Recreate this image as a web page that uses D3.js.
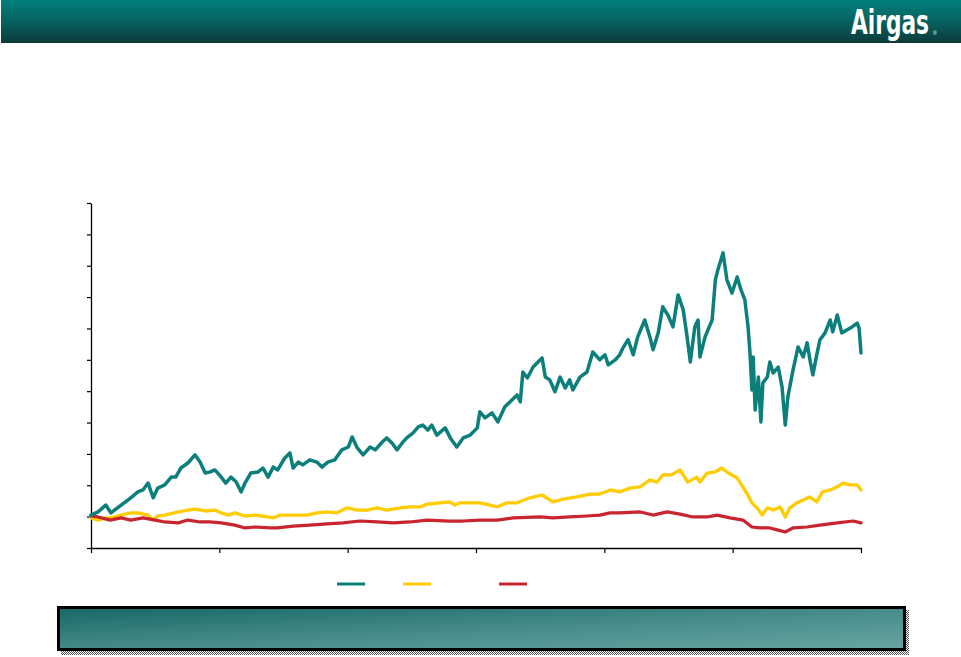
<!DOCTYPE html>
<html>
<head>
<meta charset="utf-8">
<script src="https://cdn.jsdelivr.net/npm/d3@7/dist/d3.min.js"></script>
<style>
  html, body { margin: 0; padding: 0; background: #fff; }
  svg { display: block; }
</style>
</head>
<body>
<svg id="chart" width="961" height="657"></svg>
<script>
// ---- Data (indexed value, months from start) ----
const tealMonths = [0,1.1,2.3,3.1,4.7,6.2,7.3,8.1,8.9,9.7,10.4,11.5,12.5,13.2,14.0,15.1,16.2,17.0,17.8,18.5,19.3,20.3,21.0,21.8,22.6,23.4,24.0,24.9,26.0,26.8,27.6,28.4,29.1,30.2,31.0,31.5,32.3,33.0,34.1,35.2,36.0,36.9,38.0,39.1,40.1,40.7,41.5,42.4,43.5,44.3,45.4,46.1,46.9,47.7,48.5,49.2,50.2,51.0,51.7,52.5,53.1,53.9,55.2,56.0,57.0,58.0,59.1,60.2,60.6,61.4,62.5,63.4,64.5,65.6,66.4,66.9,67.3,68.0,68.9,70.3,70.8,71.5,72.3,73.1,73.9,74.6,75.1,76.2,77.3,78.2,79.3,80.1,80.6,81.7,82.4,82.9,83.7,84.5,85.2,86.3,87.1,87.6,88.4,89.1,89.9,90.7,91.5,92.3,92.9,93.4,94.1,94.6,94.9,95.7,96.8,97.3,97.7,98.5,99.1,99.9,100.7,101.3,101.9,102.4,102.7,103.0,103.2,103.5,104.0,104.4,104.7,105.4,105.8,106.3,107.1,107.7,108.2,108.6,109.4,110.2,111.0,111.6,112.1,112.5,113.1,113.6,114.4,115.2,115.6,116.3,117.0,117.8,118.6,119.4,119.7,120];
const tealValues = [105,115,137,112,137,160,179,185,207,160,191,201,226,226,255,271,297,274,239,242,249,226,207,226,211,179,207,239,242,255,226,258,249,287,303,255,274,265,281,274,258,274,281,313,322,354,319,297,322,313,338,351,335,313,335,351,367,386,392,376,392,360,383,351,322,351,360,383,434,415,431,402,450,472,488,466,561,542,577,606,545,536,498,545,510,536,504,545,561,625,600,616,584,600,616,638,664,616,673,727,673,632,686,769,743,705,807,759,673,593,705,727,609,673,727,855,887,941,855,813,864,823,791,705,622,504,609,440,545,402,526,545,593,558,577,513,392,481,567,641,609,654,593,552,616,664,686,727,689,743,686,695,705,717,701,622];

const yellowMonths = [0,1.1,2.3,3.1,4.7,6.2,7.3,8.9,9.7,10.4,11.5,13.6,15.1,16.2,17.8,19.3,20.3,21.4,22.4,24.0,25.6,27.6,28.4,29.5,31.5,33.7,35.2,36.8,38.3,39.9,41.5,43.0,44.6,46.1,48.2,49.7,51.3,52.4,54.4,55.9,56.7,57.5,59.1,60.6,62.2,63.3,64.8,66.4,68.4,70.3,72.0,73.6,75.7,77.8,79.3,80.9,82.4,84.0,85.6,87.1,88.2,89.1,90.5,91.8,93.0,94.4,94.9,96.0,97.2,98.3,99.3,100.7,101.1,102.2,103.0,103.8,104.6,105.4,106.3,107.4,108.2,108.9,110.0,111.0,112.0,113.1,114.0,115.2,116.3,117.2,118.3,119.4,120];
const yellowValues = [96,89,96,96,105,112,112,105,89,102,105,115,121,124,118,121,112,105,112,102,105,99,96,105,105,105,112,115,112,128,121,121,128,121,128,131,131,140,144,147,137,144,144,144,137,131,144,144,160,169,147,156,163,172,172,185,179,191,195,217,210,233,233,249,210,226,210,239,242,255,239,223,210,175,144,128,105,128,121,131,99,128,144,153,163,147,179,185,195,207,201,201,185];

const redMonths = [0,1.1,3.0,4.7,6.2,8.1,10.0,11.5,13.6,15.1,17.0,18.5,20.3,22.4,24.0,25.6,28.0,29.0,31.5,34.1,36.8,39.3,41.9,44.6,47.1,49.7,52.4,55.9,58.0,60.6,63.3,65.8,70.0,72.0,74.6,77.3,79.3,80.9,82.4,85.6,87.6,89.8,91.8,93.8,96.0,97.6,99.6,101.6,103.0,104.2,105.8,107.1,108.2,109.4,111.6,113.6,116.3,118.8,120];
const redValues = [102,99,89,96,89,96,89,83,80,89,83,83,80,73,64,67,64,64,70,73,77,80,86,83,80,83,89,86,86,89,89,96,99,96,99,102,105,112,112,115,105,115,108,99,99,105,96,89,67,64,64,57,51,64,67,73,80,86,80];

const xTicks = [0,20,40,60,80,100,120];
const yTicks = [0,100,200,300,400,500,600,700,800,900,1000,1100];
const logoText = "Airgas";

// ---- Drawing ----
const svg = d3.select("#chart");
const W = 961, H = 657;
const defs = svg.append("defs");

const hg = defs.append("linearGradient").attr("id","hdr").attr("x1",0).attr("y1",0).attr("x2",0).attr("y2",1);
hg.append("stop").attr("offset","0%").attr("stop-color","#017f7b");
hg.append("stop").attr("offset","45%").attr("stop-color","#066562");
hg.append("stop").attr("offset","100%").attr("stop-color","#0b3b3a");

const bg = defs.append("linearGradient").attr("id","box").attr("x1",0).attr("y1",0).attr("x2",1).attr("y2",1);
bg.append("stop").attr("offset","0%").attr("stop-color","#166866");
bg.append("stop").attr("offset","55%").attr("stop-color","#4a8e8b");
bg.append("stop").attr("offset","100%").attr("stop-color","#66a5a2");

const pat = defs.append("pattern").attr("id","dots").attr("width",2).attr("height",2).attr("patternUnits","userSpaceOnUse");
pat.append("rect").attr("x",0).attr("y",0).attr("width",1).attr("height",1).attr("fill","#555");
pat.append("rect").attr("x",1).attr("y",1).attr("width",1).attr("height",1).attr("fill","#555");

// header
svg.append("rect").attr("x",1).attr("y",0).attr("width",W-1).attr("height",43).attr("fill","url(#hdr)");
svg.append("text").text(logoText)
  .attr("transform","translate(851,34) scale(1,1.4)")
  .attr("x",0).attr("y",0)
  .attr("font-family","'DejaVu Sans Condensed','Liberation Sans Narrow',sans-serif")
  .attr("font-weight","bold").attr("font-size",24).attr("fill","#fff")
  .attr("textLength",78).attr("lengthAdjust","spacingAndGlyphs");
svg.append("text").text("®").attr("x",933).attr("y",35)
  .attr("font-family","'Liberation Sans',sans-serif").attr("font-size",5).attr("fill","#fff");

// scales
const x = d3.scaleLinear().domain([0,120]).range([91,861]);
const y = d3.scaleLinear().domain([0,1100]).range([548,203]);

// axes
const yAxis = d3.axisLeft(y).tickValues(yTicks).tickSize(4).tickFormat("").tickSizeOuter(0);
const xAxis = d3.axisBottom(x).tickValues(xTicks).tickSize(5).tickFormat("").tickSizeOuter(0);
const gy = svg.append("g").attr("transform","translate(91,0)").call(yAxis);
const gx = svg.append("g").attr("transform","translate(0,548)").call(xAxis);
[gy,gx].forEach(g => {
  g.selectAll("path").attr("stroke","#000").attr("stroke-width",1.3);
  g.selectAll("line").attr("stroke","#000").attr("stroke-width",1.2);
});

// lines
const line = d3.line().x(d => x(d[0])).y(d => y(d[1]));
function draw(months, values, color, w) {
  const pts = months.map((m,i) => [m, values[i]]);
  svg.append("path").datum(pts).attr("d", line)
    .attr("fill","none").attr("stroke",color).attr("stroke-width",w)
    .attr("stroke-linejoin","round").attr("stroke-linecap","round");
}
const colors = { teal:"#0a7f7b", yellow:"#ffcc00", red:"#c8252e" };
draw(yellowMonths, yellowValues, colors.yellow, 3.3);
draw(redMonths, redValues, colors.red, 3.2);
draw(tealMonths, tealValues, colors.teal, 3.5);

// legend swatches
const legend = [
  { color: colors.teal, x0: 337 },
  { color: colors.yellow, x0: 403 },
  { color: colors.red, x0: 499 }
];
svg.selectAll(".lg").data(legend).enter().append("line")
  .attr("x1", d => d.x0).attr("x2", d => d.x0 + 28)
  .attr("y1", 584).attr("y2", 584)
  .attr("stroke", d => d.color).attr("stroke-width", 3);

// bottom box with dotted shadow
svg.append("rect").attr("x",61).attr("y",610).attr("width",848).attr("height",45).attr("fill","url(#dots)");
svg.append("rect").attr("x",58.5).attr("y",607.5).attr("width",846).attr("height",42)
  .attr("fill","url(#box)").attr("stroke","#000").attr("stroke-width",3);
</script>
</body>
</html>
